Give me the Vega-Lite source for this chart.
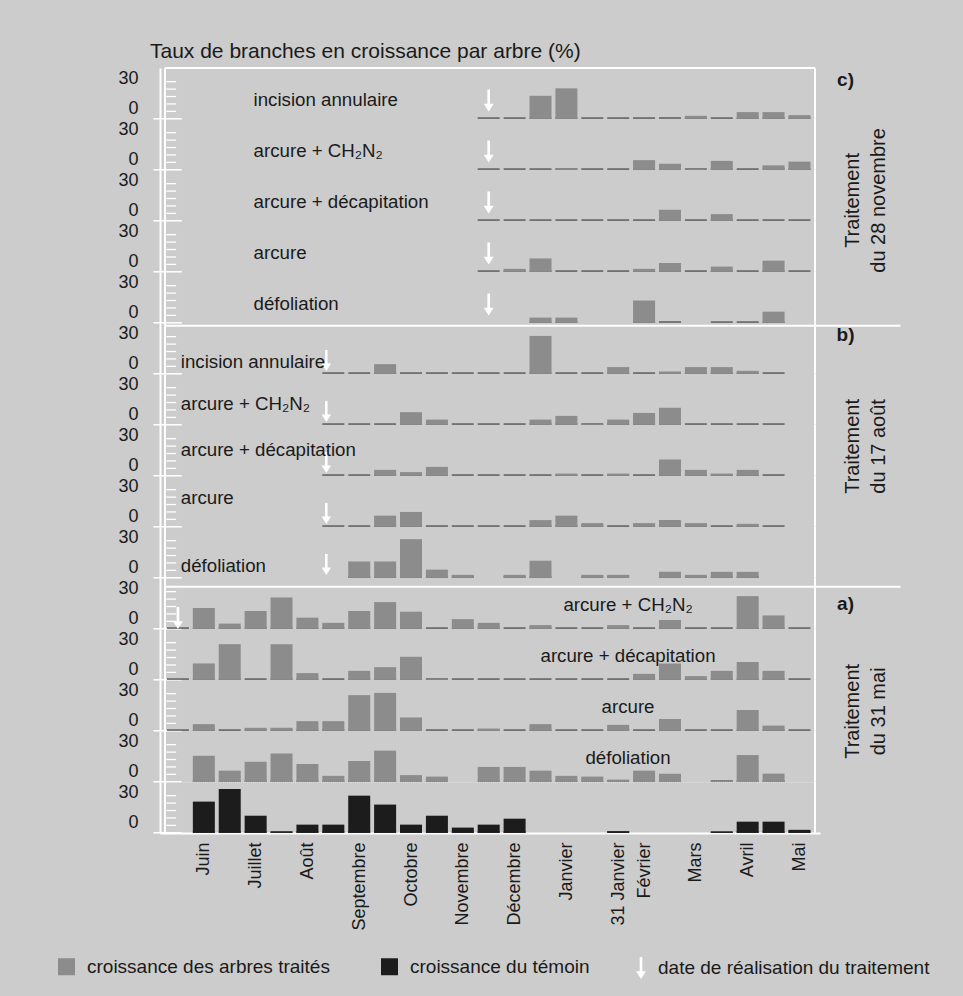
{
"$schema": "https://vega.github.io/schema/vega-lite/v6.json",
"autosize": {"type": "none"},
"padding": {"left": 160, "top": 68, "right": 803, "bottom": 928},
"background": "#cccccc",
"bounds": "flush",
"title": {"text": "Taux de branches en croissance par arbre (%)", "anchor": "start", "frame": "group", "dx": -10, "offset": -16, "baseline": "bottom", "fontSize": 21, "fontWeight": "normal", "font": "Liberation Sans", "color": "#1a1a1a"},
"data": {"values": [
{"p":"c1","t":"incision annulaire","s":12,"v":0,"a":1},{"p":"c1","s":13,"v":0},{"p":"c1","s":14,"v":15.5},{"p":"c1","s":15,"v":20.5},{"p":"c1","s":16,"v":0},{"p":"c1","s":17,"v":0},{"p":"c1","s":18,"v":0},{"p":"c1","s":19,"v":0},{"p":"c1","s":20,"v":2},{"p":"c1","s":21,"v":0},{"p":"c1","s":22,"v":4.5},{"p":"c1","s":23,"v":4.5},{"p":"c1","s":24,"v":2.5},
{"p":"c2","t":"arcure + CH₂N₂","s":12,"v":0,"a":1},{"p":"c2","s":13,"v":0},{"p":"c2","s":14,"v":0},{"p":"c2","s":15,"v":1},{"p":"c2","s":16,"v":0},{"p":"c2","s":17,"v":0},{"p":"c2","s":18,"v":6.5},{"p":"c2","s":19,"v":4},{"p":"c2","s":20,"v":0.5},{"p":"c2","s":21,"v":6},{"p":"c2","s":22,"v":0},{"p":"c2","s":23,"v":3},{"p":"c2","s":24,"v":5.5},
{"p":"c3","t":"arcure + décapitation","s":12,"v":0,"a":1},{"p":"c3","s":13,"v":0},{"p":"c3","s":14,"v":0},{"p":"c3","s":15,"v":0},{"p":"c3","s":16,"v":0},{"p":"c3","s":17,"v":0},{"p":"c3","s":18,"v":0},{"p":"c3","s":19,"v":7.5},{"p":"c3","s":20,"v":0},{"p":"c3","s":21,"v":4.5},{"p":"c3","s":22,"v":0},{"p":"c3","s":23,"v":0},{"p":"c3","s":24,"v":0},
{"p":"c4","t":"arcure","s":12,"v":0,"a":1},{"p":"c4","s":13,"v":2},{"p":"c4","s":14,"v":9},{"p":"c4","s":15,"v":0},{"p":"c4","s":16,"v":0},{"p":"c4","s":17,"v":0},{"p":"c4","s":18,"v":2},{"p":"c4","s":19,"v":6},{"p":"c4","s":20,"v":0},{"p":"c4","s":21,"v":3.5},{"p":"c4","s":22,"v":0},{"p":"c4","s":23,"v":7.5},{"p":"c4","s":24,"v":0},
{"p":"c5","t":"défoliation","s":12,"v":null,"a":1},{"p":"c5","s":14,"v":3.5},{"p":"c5","s":15,"v":3.5},{"p":"c5","s":18,"v":15},{"p":"c5","s":19,"v":0},{"p":"c5","s":21,"v":0},{"p":"c5","s":22,"v":0},{"p":"c5","s":23,"v":7.5},
{"p":"b1","t":"incision annulaire","s":6,"v":0,"a":1},{"p":"b1","s":7,"v":0},{"p":"b1","s":8,"v":6.5},{"p":"b1","s":9,"v":0},{"p":"b1","s":10,"v":0},{"p":"b1","s":11,"v":0},{"p":"b1","s":12,"v":0},{"p":"b1","s":13,"v":0},{"p":"b1","s":14,"v":25.5},{"p":"b1","s":15,"v":0},{"p":"b1","s":16,"v":0},{"p":"b1","s":17,"v":4.5},{"p":"b1","s":18,"v":0},{"p":"b1","s":19,"v":1.5},{"p":"b1","s":20,"v":4.5},{"p":"b1","s":21,"v":4.5},{"p":"b1","s":22,"v":2},{"p":"b1","s":23,"v":0},
{"p":"b2","t":"arcure + CH₂N₂","s":6,"v":0,"a":1},{"p":"b2","s":7,"v":0},{"p":"b2","s":8,"v":0},{"p":"b2","s":9,"v":8.5},{"p":"b2","s":10,"v":3.5},{"p":"b2","s":11,"v":0},{"p":"b2","s":12,"v":0},{"p":"b2","s":13,"v":0},{"p":"b2","s":14,"v":3.5},{"p":"b2","s":15,"v":6},{"p":"b2","s":16,"v":0.5},{"p":"b2","s":17,"v":3.5},{"p":"b2","s":18,"v":8},{"p":"b2","s":19,"v":11.5},{"p":"b2","s":20,"v":0},{"p":"b2","s":21,"v":0},{"p":"b2","s":22,"v":0},{"p":"b2","s":23,"v":0},
{"p":"b3","t":"arcure + décapitation","s":6,"v":0,"a":1},{"p":"b3","s":7,"v":0},{"p":"b3","s":8,"v":4},{"p":"b3","s":9,"v":2.5},{"p":"b3","s":10,"v":6},{"p":"b3","s":11,"v":0},{"p":"b3","s":12,"v":0},{"p":"b3","s":13,"v":0},{"p":"b3","s":14,"v":0},{"p":"b3","s":15,"v":1.5},{"p":"b3","s":16,"v":0},{"p":"b3","s":17,"v":1.5},{"p":"b3","s":18,"v":0},{"p":"b3","s":19,"v":11},{"p":"b3","s":20,"v":4},{"p":"b3","s":21,"v":1.5},{"p":"b3","s":22,"v":4},{"p":"b3","s":23,"v":0},
{"p":"b4","t":"arcure","s":6,"v":0,"a":1},{"p":"b4","s":7,"v":0},{"p":"b4","s":8,"v":7.5},{"p":"b4","s":9,"v":10},{"p":"b4","s":10,"v":0},{"p":"b4","s":11,"v":0},{"p":"b4","s":12,"v":0},{"p":"b4","s":13,"v":0},{"p":"b4","s":14,"v":4.5},{"p":"b4","s":15,"v":7.5},{"p":"b4","s":16,"v":2.5},{"p":"b4","s":17,"v":0},{"p":"b4","s":18,"v":2.5},{"p":"b4","s":19,"v":4.5},{"p":"b4","s":20,"v":2.5},{"p":"b4","s":21,"v":0},{"p":"b4","s":22,"v":2},{"p":"b4","s":23,"v":0},
{"p":"b5","t":"défoliation","s":6,"v":null,"a":1},{"p":"b5","s":7,"v":11},{"p":"b5","s":8,"v":11},{"p":"b5","s":9,"v":26},{"p":"b5","s":10,"v":5.5},{"p":"b5","s":11,"v":2},{"p":"b5","s":13,"v":2},{"p":"b5","s":14,"v":11.5},{"p":"b5","s":16,"v":2},{"p":"b5","s":17,"v":2},{"p":"b5","s":19,"v":4},{"p":"b5","s":20,"v":2},{"p":"b5","s":21,"v":4},{"p":"b5","s":22,"v":4},
{"p":"a1","t":"arcure + CH₂N₂","s":0,"v":0,"a":1},{"p":"a1","s":1,"v":14},{"p":"a1","s":2,"v":3.5},{"p":"a1","s":3,"v":12},{"p":"a1","s":4,"v":21},{"p":"a1","s":5,"v":7.5},{"p":"a1","s":6,"v":4},{"p":"a1","s":7,"v":12},{"p":"a1","s":8,"v":18},{"p":"a1","s":9,"v":11.5},{"p":"a1","s":10,"v":0},{"p":"a1","s":11,"v":6.5},{"p":"a1","s":12,"v":4},{"p":"a1","s":13,"v":0},{"p":"a1","s":14,"v":2.5},{"p":"a1","s":15,"v":0},{"p":"a1","s":16,"v":0},{"p":"a1","s":17,"v":2.5},{"p":"a1","s":18,"v":0},{"p":"a1","s":19,"v":6},{"p":"a1","s":20,"v":0},{"p":"a1","s":21,"v":0},{"p":"a1","s":22,"v":22},{"p":"a1","s":23,"v":9},{"p":"a1","s":24,"v":0},
{"p":"a2","t":"arcure + décapitation","s":0,"v":0},{"p":"a2","s":1,"v":11},{"p":"a2","s":2,"v":24},{"p":"a2","s":3,"v":0},{"p":"a2","s":4,"v":24},{"p":"a2","s":5,"v":4.5},{"p":"a2","s":6,"v":0},{"p":"a2","s":7,"v":6},{"p":"a2","s":8,"v":8.5},{"p":"a2","s":9,"v":15.5},{"p":"a2","s":10,"v":0.5},{"p":"a2","s":11,"v":0},{"p":"a2","s":12,"v":0},{"p":"a2","s":13,"v":0},{"p":"a2","s":14,"v":0},{"p":"a2","s":15,"v":0},{"p":"a2","s":16,"v":0},{"p":"a2","s":17,"v":0},{"p":"a2","s":18,"v":4},{"p":"a2","s":19,"v":11},{"p":"a2","s":20,"v":2.5},{"p":"a2","s":21,"v":6},{"p":"a2","s":22,"v":12},{"p":"a2","s":23,"v":6},{"p":"a2","s":24,"v":0},
{"p":"a3","t":"arcure","s":0,"v":0},{"p":"a3","s":1,"v":4.5},{"p":"a3","s":2,"v":0},{"p":"a3","s":3,"v":2},{"p":"a3","s":4,"v":2},{"p":"a3","s":5,"v":6.5},{"p":"a3","s":6,"v":6.5},{"p":"a3","s":7,"v":24},{"p":"a3","s":8,"v":25.5},{"p":"a3","s":9,"v":9},{"p":"a3","s":10,"v":0},{"p":"a3","s":11,"v":0},{"p":"a3","s":12,"v":1.5},{"p":"a3","s":13,"v":0},{"p":"a3","s":14,"v":4.5},{"p":"a3","s":15,"v":0},{"p":"a3","s":16,"v":0},{"p":"a3","s":17,"v":4},{"p":"a3","s":18,"v":0},{"p":"a3","s":19,"v":8},{"p":"a3","s":20,"v":0},{"p":"a3","s":21,"v":0},{"p":"a3","s":22,"v":14},{"p":"a3","s":23,"v":3.5},{"p":"a3","s":24,"v":0},
{"p":"a4","t":"défoliation","s":1,"v":17.5},{"p":"a4","s":2,"v":7.5},{"p":"a4","s":3,"v":13.5},{"p":"a4","s":4,"v":19},{"p":"a4","s":5,"v":12},{"p":"a4","s":6,"v":4},{"p":"a4","s":7,"v":14},{"p":"a4","s":8,"v":21},{"p":"a4","s":9,"v":4.5},{"p":"a4","s":10,"v":3.5},{"p":"a4","s":12,"v":10},{"p":"a4","s":13,"v":10},{"p":"a4","s":14,"v":7.5},{"p":"a4","s":15,"v":4},{"p":"a4","s":16,"v":3.5},{"p":"a4","s":17,"v":1.5},{"p":"a4","s":18,"v":7.5},{"p":"a4","s":19,"v":5.5},{"p":"a4","s":21,"v":0.5},{"p":"a4","s":22,"v":18},{"p":"a4","s":23,"v":5.5},
{"p":"t","s":1,"v":21},{"p":"t","s":2,"v":29.5},{"p":"t","s":3,"v":11.5},{"p":"t","s":4,"v":0.5},{"p":"t","s":5,"v":5.5},{"p":"t","s":6,"v":5.5},{"p":"t","s":7,"v":25},{"p":"t","s":8,"v":19},{"p":"t","s":9,"v":5.5},{"p":"t","s":10,"v":11.5},{"p":"t","s":11,"v":3.5},{"p":"t","s":12,"v":5.5},{"p":"t","s":13,"v":9.5},{"p":"t","s":17,"v":1},{"p":"t","s":21,"v":0.5},{"p":"t","s":22,"v":7.5},{"p":"t","s":23,"v":7.5},{"p":"t","s":24,"v":2}
]},
"facet": {"row": {"field": "p", "type": "nominal", "sort": ["c1","c2","c3","c4","c5","b1","b2","b3","b4","b5","a1","a2","a3","a4","t"], "header": {"labels": false, "title": null}, "title": null}},
"spacing": 0,
"spec": {
"width": 660, "height": 50.8,
"layer": [
{"transform": [{"aggregate": [{"op": "count", "as": "n"}], "groupby": ["p"]}],
 "mark": {"type": "rule", "color": "#ffffff", "strokeWidth": 1.5},
 "encoding": {
  "x": {"datum": -0.95, "scale": {"domain": [-0.5, 24.6], "nice": false, "zero": false},
   "axis": {"title": null, "values": [1,3,5,7,9,11,13,15,17,18,20,22,24], "labelExpr": "['','Juin','','Juillet','','Août','','Septembre','','Octobre','','Novembre','','Décembre','','Janvier','','31 Janvier','Février','','Mars','','Avril','','Mai'][datum.value]", "labelAngle": 270, "ticks": false, "grid": false, "domainColor": "#ffffff", "domainWidth": 2, "labelFontSize": 18, "labelFont": "Liberation Sans", "labelColor": "#1a1a1a", "labelPadding": 9, "labelOverlap": false, "labelFlush": false, "labelBound": false}},
  "x2": {"datum": 0.15},
  "y": {"datum": 0, "scale": {"domain": [0, 34.2], "nice": false, "zero": false},
   "axis": {"title": null, "values": [0,30], "labelExpr": "datum.value == 0 ? '0' : '30'", "grid": false, "ticks": false, "domainColor": "#ffffff", "domainWidth": 2, "labelFontSize": 18, "labelFont": "Liberation Sans", "labelColor": "#1a1a1a", "labelPadding": 22, "labelOffset": {"condition": {"test": "datum.value == 0", "value": -10}, "value": 4}, "labelOverlap": false}}
 }},
{"transform": [{"aggregate": [{"op": "count", "as": "n"}], "groupby": ["p"]}],
 "mark": {"type": "rule", "color": "#ffffff", "strokeWidth": 2},
 "encoding": {"x": {"datum": -0.5}, "y": {"datum": 0}, "y2": {"datum": 34.2}}},
{"transform": [{"aggregate": [{"op": "count", "as": "n"}], "groupby": ["p"]}],
 "mark": {"type": "rule", "color": "#ffffff", "strokeWidth": 1.3},
 "encoding": {"x": {"datum": -0.45}, "x2": {"datum": -0.07}, "y": {"datum": 5}}},
{"transform": [{"aggregate": [{"op": "count", "as": "n"}], "groupby": ["p"]}],
 "mark": {"type": "rule", "color": "#ffffff", "strokeWidth": 1.3},
 "encoding": {"x": {"datum": -0.45}, "x2": {"datum": -0.07}, "y": {"datum": 10}}},
{"transform": [{"aggregate": [{"op": "count", "as": "n"}], "groupby": ["p"]}],
 "mark": {"type": "rule", "color": "#ffffff", "strokeWidth": 1.3},
 "encoding": {"x": {"datum": -0.45}, "x2": {"datum": -0.07}, "y": {"datum": 15}}},
{"transform": [{"aggregate": [{"op": "count", "as": "n"}], "groupby": ["p"]}],
 "mark": {"type": "rule", "color": "#ffffff", "strokeWidth": 1.3},
 "encoding": {"x": {"datum": -0.45}, "x2": {"datum": -0.07}, "y": {"datum": 20}}},
{"transform": [{"aggregate": [{"op": "count", "as": "n"}], "groupby": ["p"]}],
 "mark": {"type": "rule", "color": "#ffffff", "strokeWidth": 1.3},
 "encoding": {"x": {"datum": -0.45}, "x2": {"datum": -0.07}, "y": {"datum": 25}}},
{"transform": [{"filter": "isValid(datum.v)"}],
 "mark": {"type": "bar", "width": 22},
 "encoding": {"x": {"field": "s", "type": "quantitative"}, "y": {"datum": 0}, "y2": {"datum": 1}, "color": {"condition": {"test": "datum.p == 't'", "value": "#151515"}, "value": "#5c5c5c"}}},
{"transform": [{"filter": "datum.v > 0"}],
 "mark": {"type": "bar", "width": 22},
 "encoding": {"x": {"field": "s", "type": "quantitative"}, "y": {"field": "v", "type": "quantitative"},
  "color": {"field": "p", "type": "nominal",
   "scale": {"domain": ["c1","c2","c3","c4","c5","b1","b2","b3","b4","b5","a1","a2","a3","a4","t"], "range": ["#8c8c8c","#8c8c8c","#8c8c8c","#8c8c8c","#8c8c8c","#8c8c8c","#8c8c8c","#8c8c8c","#8c8c8c","#8c8c8c","#8c8c8c","#8c8c8c","#8c8c8c","#8c8c8c","#1c1c1c"]},
   "legend": {"values": ["c1", "t"], "orient": "none", "legendX": -103, "legendY": 889, "direction": "horizontal", "title": null, "labelExpr": "datum.value == 't' ? 'croissance du témoin' : 'croissance des arbres traités'", "labelFontSize": 19, "labelFont": "Liberation Sans", "labelColor": "#1a1a1a", "labelOffset": 11, "labelLimit": 400, "columnPadding": 50, "padding": 0, "symbolType": "square", "symbolSize": 289, "symbolStrokeWidth": 0}}}},
{"transform": [{"aggregate": [{"op": "count", "as": "n"}], "groupby": ["p"]}],
 "mark": {"type": "rule", "color": "#ffffff", "strokeWidth": 2},
 "encoding": {"x": {"datum": 24.6}, "y": {"datum": 0}, "y2": {"datum": 34.2}}},
{"transform": [{"aggregate": [{"op": "count", "as": "n"}], "groupby": ["p"]}, {"filter": "datum.p == 'c1'"}],
 "mark": {"type": "rule", "color": "#ffffff", "strokeWidth": 2},
 "encoding": {"x": {"datum": -0.5}, "x2": {"datum": 24.6}, "y": {"datum": 34.2}}},
{"transform": [{"aggregate": [{"op": "count", "as": "n"}], "groupby": ["p"]}, {"filter": "datum.p == 'c5'"}],
 "mark": {"type": "rule", "color": "#ffffff", "strokeWidth": 2},
 "encoding": {"x": {"datum": -0.5}, "x2": {"datum": 27.9}, "y": {"datum": -2}}},
{"transform": [{"aggregate": [{"op": "count", "as": "n"}], "groupby": ["p"]}, {"filter": "datum.p == 'b5'"}],
 "mark": {"type": "rule", "color": "#ffffff", "strokeWidth": 2},
 "encoding": {"x": {"datum": -0.5}, "x2": {"datum": 27.9}, "y": {"datum": -6}}},
{"transform": [{"aggregate": [{"op": "count", "as": "n"}], "groupby": ["p"]}, {"filter": "datum.p == 'a4'"}],
 "mark": {"type": "rule", "color": "#dedede", "strokeWidth": 1, "strokeDash": [1, 1]},
 "encoding": {"x": {"datum": -0.5}, "x2": {"datum": 24.6}, "y": {"datum": -0.4}}},
{"transform": [{"filter": "datum.a == 1 && test(/^c/, datum.p)"}],
 "mark": {"type": "point", "size": 484, "filled": true, "color": "#ffffff", "opacity": 1, "strokeWidth": 0},
 "encoding": {"x": {"field": "s", "type": "quantitative"}, "y": {"datum": 12.4},
  "shape": {"field": "a", "type": "nominal", "scale": {"domain": [1], "range": ["M-0.12,-1L0.12,-1L0.12,0.3L0.45,0.3L0,1L-0.45,0.3L-0.12,0.3Z"]},
   "legend": {"orient": "none", "legendX": 470, "legendY": 889, "title": null, "labelExpr": "'date de réalisation du traitement'", "labelFontSize": 19, "labelFont": "Liberation Sans", "labelColor": "#1a1a1a", "labelOffset": 6, "labelLimit": 400, "padding": 0, "symbolSize": 484, "symbolFillColor": "#ffffff", "symbolStrokeWidth": 0}}}},
{"transform": [{"filter": "datum.a == 1 && test(/^b/, datum.p)"}],
 "mark": {"type": "point", "size": 440, "filled": true, "color": "#ffffff", "opacity": 1, "strokeWidth": 0, "xOffset": -7},
 "encoding": {"x": {"field": "s", "type": "quantitative"}, "y": {"datum": 9},
  "shape": {"field": "a", "type": "nominal"}}},
{"transform": [{"filter": "datum.a == 1 && test(/^a/, datum.p)"}],
 "mark": {"type": "point", "size": 484, "filled": true, "color": "#ffffff", "opacity": 1, "strokeWidth": 0},
 "encoding": {"x": {"field": "s", "type": "quantitative"}, "y": {"datum": 7.3},
  "shape": {"field": "a", "type": "nominal"}}},
{"transform": [{"filter": "isValid(datum.t) && test(/^c/, datum.p)"}],
 "mark": {"type": "text", "align": "left", "baseline": "middle", "fontSize": 18.7, "color": "#1a1a1a"},
 "encoding": {"text": {"field": "t"}, "x": {"datum": 2.92}, "y": {"datum": 12.5}}},
{"transform": [{"filter": "isValid(datum.t) && (datum.p == 'b1' || datum.p == 'b5')"}],
 "mark": {"type": "text", "align": "left", "baseline": "middle", "fontSize": 18.7, "color": "#1a1a1a"},
 "encoding": {"text": {"field": "t"}, "x": {"datum": 0.11}, "y": {"datum": 8}}},
{"transform": [{"filter": "isValid(datum.t) && datum.p == 'b2'"}],
 "mark": {"type": "text", "align": "left", "baseline": "middle", "fontSize": 18.7, "color": "#1a1a1a"},
 "encoding": {"text": {"field": "t"}, "x": {"datum": 0.11}, "y": {"datum": 13.7}}},
{"transform": [{"filter": "isValid(datum.t) && datum.p == 'b3'"}],
 "mark": {"type": "text", "align": "left", "baseline": "middle", "fontSize": 18.7, "color": "#1a1a1a"},
 "encoding": {"text": {"field": "t"}, "x": {"datum": 0.11}, "y": {"datum": 17.6}}},
{"transform": [{"filter": "isValid(datum.t) && datum.p == 'b4'"}],
 "mark": {"type": "text", "align": "left", "baseline": "middle", "fontSize": 18.7, "color": "#1a1a1a"},
 "encoding": {"text": {"field": "t"}, "x": {"datum": 0.11}, "y": {"datum": 19.7}}},
{"transform": [{"filter": "isValid(datum.t) && test(/^a/, datum.p)"}],
 "mark": {"type": "text", "align": "center", "baseline": "middle", "fontSize": 18.7, "color": "#1a1a1a"},
 "encoding": {"text": {"field": "t"}, "x": {"datum": 17.38}, "y": {"datum": 16.3}}},
{"transform": [{"filter": "isValid(datum.t) && datum.p == 'c1'"}],
 "mark": {"type": "text", "text": "c)", "fontWeight": "bold", "fontSize": 19, "align": "center", "baseline": "middle", "color": "#1a1a1a"},
 "encoding": {"x": {"datum": 25.78}, "y": {"datum": 26.1}}},
{"transform": [{"filter": "isValid(datum.t) && datum.p == 'b1'"}],
 "mark": {"type": "text", "text": "b)", "fontWeight": "bold", "fontSize": 19, "align": "center", "baseline": "middle", "color": "#1a1a1a"},
 "encoding": {"x": {"datum": 25.78}, "y": {"datum": 26.1}}},
{"transform": [{"filter": "isValid(datum.t) && datum.p == 'a1'"}],
 "mark": {"type": "text", "text": "a)", "fontWeight": "bold", "fontSize": 19, "align": "center", "baseline": "middle", "color": "#1a1a1a"},
 "encoding": {"x": {"datum": 25.78}, "y": {"datum": 16.7}}},
{"transform": [{"filter": "isValid(datum.t) && datum.p == 'c3'"}],
 "mark": {"type": "text", "text": ["Traitement", "du 28 novembre"], "angle": 270, "fontSize": 20, "lineHeight": 26, "align": "center", "baseline": "middle", "color": "#1a1a1a"},
 "encoding": {"x": {"datum": 26.08}, "y": {"datum": 13.7}}},
{"transform": [{"filter": "isValid(datum.t) && datum.p == 'b3'"}],
 "mark": {"type": "text", "text": ["Traitement", "du 17 août"], "angle": 270, "fontSize": 20, "lineHeight": 26, "align": "center", "baseline": "middle", "color": "#1a1a1a"},
 "encoding": {"x": {"datum": 26.08}, "y": {"datum": 19.8}}},
{"transform": [{"filter": "isValid(datum.t) && datum.p == 'a3'"}],
 "mark": {"type": "text", "text": ["Traitement", "du 31 mai"], "angle": 270, "fontSize": 20, "lineHeight": 26, "align": "center", "baseline": "middle", "color": "#1a1a1a"},
 "encoding": {"x": {"datum": 26.08}, "y": {"datum": 13.1}}}
]
},
"config": {
 "view": {"stroke": null},
 "font": "Liberation Sans",
 "text": {"font": "Liberation Sans"},
 "axis": {"labelFont": "Liberation Sans"},
 "legend": {"labelFont": "Liberation Sans"},
 "title": {"font": "Liberation Sans"},
 "facet": {"spacing": 0}
}
}
